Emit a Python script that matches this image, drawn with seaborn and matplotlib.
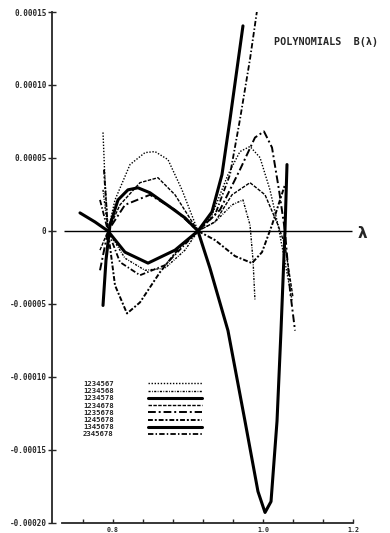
import matplotlib
matplotlib.use("Agg")
import matplotlib.pyplot as plt
import seaborn as sns
import pandas as pd

# legend labels (the 8 polynomials)
labels = ["1234567", "1234568", "1234578", "1234678",
          "1235678", "1245678", "1345678", "2345678"]

# curve traces (lambda, B)
lam_1 = [0.7867, 0.7893, 0.7933, 0.8027, 0.8227, 0.8427, 0.8560, 0.8733, 0.8920, 0.9133,
         0.9320, 0.9533, 0.9693, 0.9827, 0.9960, 1.0093, 1.0200, 1.0293, 1.0387]
b_1 = [6.75e-5, 3.51e-5, 0.0, 2.13e-5, 4.55e-5, 5.37e-5, 5.44e-5, 4.89e-5, 2.82e-5, 0.0,
       1.1e-5, 3.86e-5, 5.44e-5, 5.79e-5, 5.03e-5, 2.82e-5, 4.1e-6, -2.13e-5, -4.75e-5]

lam_2 = [0.7867, 0.7933, 0.8160, 0.8427, 0.8693, 0.8960, 0.9133, 0.9360, 0.9587, 0.9733,
         0.9827, 0.9867, 0.9893]
b_2 = [2.82e-5, 0.0, -1.86e-5, -2.69e-5, -2.55e-5, -1.31e-5, 0.0, 6.2e-6, 1.79e-5, 2.13e-5,
       4.1e-6, -2.0e-5, -4.75e-5]

lam_3 = [0.7560, 0.7760, 0.7933, 0.8160, 0.8467, 0.8827, 0.9133, 0.9320, 0.9453, 0.9560,
         0.9653, 0.9733]
b_3 = [1.24e-5, 6.2e-6, 0.0, -1.45e-5, -2.2e-5, -1.31e-5, 0.0, 1.31e-5, 3.86e-5, 7.64e-5,
       1.109e-4, 1.405e-4]

lam_4 = [0.7827, 0.7933, 0.8093, 0.8360, 0.8600, 0.8827, 0.9133, 0.9360, 0.9587, 0.9827,
         1.0027, 1.0200, 1.0293, 1.0400]
b_4 = [-1.31e-5, 0.0, 1.79e-5, 3.31e-5, 3.65e-5, 2.48e-5, 0.0, 6.2e-6, 2.48e-5, 3.31e-5,
       2.48e-5, 4.1e-6, -9.6e-6, -4.55e-5]

lam_5 = [0.7827, 0.7933, 0.8160, 0.8493, 0.8827, 0.9133, 0.9427, 0.9693, 0.9893, 1.0013,
         1.0120, 1.0213, 1.0293, 1.0360, 1.0427]
b_5 = [-2.69e-5, 0.0, 1.79e-5, 2.48e-5, 1.45e-5, 0.0, 1.45e-5, 4.2e-5, 6.4e-5, 6.82e-5,
       5.72e-5, 2.82e-5, 0.0, -4.06e-5, -6.82e-5]

lam_6 = [0.7880, 0.7933, 0.8027, 0.8187, 0.8360, 0.8627, 0.8893, 0.9133, 0.9360, 0.9627,
         0.9853, 0.9987, 1.0120, 1.0227, 1.0293]
b_6 = [4.2e-5, 0.0, -3.72e-5, -5.65e-5, -4.89e-5, -2.82e-5, -1.1e-5, 0.0, -6.2e-6, -1.72e-5,
       -2.2e-5, -1.45e-5, 4.1e-6, 2.13e-5, 3.17e-5]

lam_7 = [0.7867, 0.7907, 0.7960, 0.8067, 0.8200, 0.8333, 0.8493, 0.8760, 0.8960, 0.9133,
         0.9293, 0.9533, 0.9760, 0.9933, 1.0027, 1.0107, 1.0187, 1.0240, 1.0293, 1.0320]
b_7 = [-5.1e-5, -2.0e-5, 4.1e-6, 2.13e-5, 2.82e-5, 2.96e-5, 2.62e-5, 1.65e-5, 9.0e-6, 0.0,
       -2.55e-5, -6.82e-5, -1.302e-4, -1.784e-4, -1.928e-4, -1.853e-4, -1.302e-4, -6.82e-5,
       0.0, 4.55e-5]

lam_8 = [0.7827, 0.7933, 0.8093, 0.8360, 0.8693, 0.9133, 0.9360, 0.9560, 0.9693, 0.9827,
         0.9920]
b_8 = [2.13e-5, 0.0, -2.13e-5, -3.03e-5, -2.34e-5, 0.0, 1.1e-5, 3.86e-5, 7.64e-5, 1.178e-4,
       1.508e-4]

x_ticks_major = [0.8, 1.0, 1.12]
x_tick_labels = ["0.8", "1.0", "1.2"]
x_ticks_minor = [0.76, 0.84, 0.88, 0.92, 0.96, 1.04, 1.08]
y_ticks = [0.00015, 0.0001, 0.00005, 0.0, -0.00005, -0.0001, -0.00015, -0.0002]
y_tick_labels = ["0.00015", "0.00010", "0.00005", "0", "-0.00005",
                 "-0.00010", "-0.00015", "-0.00020"]

lams = [lam_1, lam_2, lam_3, lam_4, lam_5, lam_6, lam_7, lam_8]
bs = [b_1, b_2, b_3, b_4, b_5, b_6, b_7, b_8]
frames = []
for lab, l, b in zip(labels, lams, bs):
    frames.append(pd.DataFrame({"lam": l, "B": b, "poly": lab}))
df = pd.concat(frames, ignore_index=True)

styles = {
    "1234567": dict(ls=(0, (1, 1.2)), lw=1.0),
    "1234568": dict(ls=(0, (1.5, 1, 0.6, 1)), lw=1.0),
    "1234578": dict(ls="-", lw=2.2),
    "1234678": dict(ls=(0, (2.5, 1)), lw=1.0),
    "1235678": dict(ls=(0, (4, 1.5, 1, 1.5)), lw=1.4),
    "1245678": dict(ls=(0, (2.5, 1, 1, 1)), lw=1.4),
    "1345678": dict(ls="-", lw=2.2),
    "2345678": dict(ls=(0, (3, 1.2, 0.8, 1.2)), lw=1.3),
}

sns.set_style("white")
plt.rcParams["font.family"] = ["DejaVu Sans"]

fig = plt.figure(figsize=(3.9, 5.33), dpi=100)
ax = fig.add_axes([52 / 390, 1 - 523 / 533, (353 - 52) / 390, (523 - 12) / 533])

for lab in labels:
    sub = df[df["poly"] == lab]
    sns.lineplot(data=sub, x="lam", y="B", ax=ax, color="black",
                 linestyle=styles[lab]["ls"], linewidth=styles[lab]["lw"],
                 label=lab, sort=False, estimator=None)

# horizontal lambda axis
ax.hlines(0, 0.7347, 1.1187, color="black", lw=1.0)
ax.text(1.126, -0.000002, "λ", fontsize=11, fontweight="bold", va="center", ha="left")
ax.text(1.0147, 0.0001295, "POLYNOMIALS  B(λ)", fontsize=7.3, fontweight="bold",
        family="DejaVu Sans Mono", va="center", ha="left", clip_on=False)

ax.set_xlim(0.7187, 1.12)
ax.set_ylim(-0.0002, 0.00015)
ax.set_xticks(x_ticks_major)
ax.set_xticklabels(x_tick_labels, fontsize=4.8, fontweight="bold", family="DejaVu Sans Mono")
ax.set_xticks(x_ticks_minor, minor=True)
ax.set_yticks(y_ticks)
ax.set_yticklabels(y_tick_labels, fontsize=5.5, fontweight="bold", family="DejaVu Sans Mono")
ax.tick_params(axis="y", direction="inout", length=6, width=1, pad=1, left=True)
ax.tick_params(axis="x", which="both", direction="in", length=3, width=1, pad=3, bottom=True)
ax.set_xlabel("")
ax.set_ylabel("")

for s in ["top", "right"]:
    ax.spines[s].set_visible(False)
ax.spines["left"].set_linewidth(1.3)
ax.spines["bottom"].set_linewidth(1.3)
ax.spines["bottom"].set_bounds(0.732, 1.12)

leg = ax.legend(loc="upper left", bbox_to_anchor=(0.103, 0.278), frameon=False,
                markerfirst=False, fontsize=5.2, handlelength=7.5,
                handletextpad=4.8, labelspacing=0.16, borderpad=0, borderaxespad=0)
for t in leg.get_texts():
    t.set_fontweight("bold")
    t.set_family("DejaVu Sans Mono")

fig.savefig("out.png", dpi=100)
